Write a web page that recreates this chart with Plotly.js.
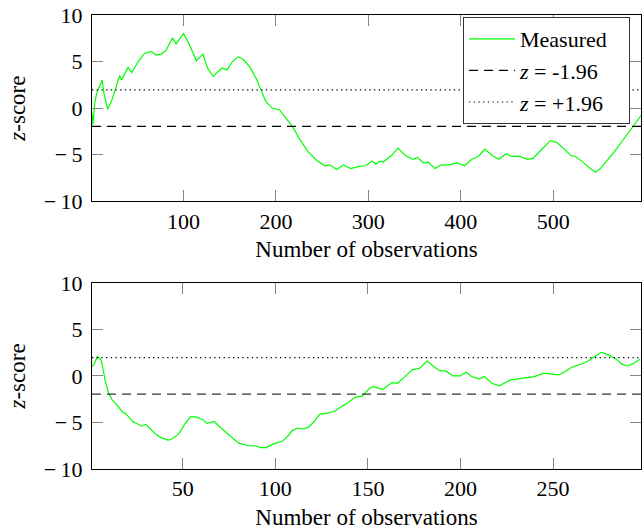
<!DOCTYPE html>
<html>
<head>
<meta charset="utf-8">
<script src="https://cdn.plot.ly/plotly-3.0.1.min.js"></script>
<style>html,body{margin:0;padding:0;background:#fff;}#chart{width:643px;height:532px;}</style>
</head>
<body>
<div id="chart"></div>
<script>
// Top panel: measured z-score
var topX = [1, 2, 4, 6, 9, 12, 14, 18, 22, 27, 31, 33, 40, 44, 51, 58, 65, 70, 76, 81, 88, 92, 100, 105, 108, 114, 121, 126, 132, 137, 142, 147, 153, 159, 164, 172, 179, 184, 189, 196, 204, 211, 218, 226, 235, 244, 253, 258, 266, 273, 281, 289, 297, 304, 308, 313, 316, 325, 332, 340, 348, 353, 360, 365, 372, 379, 388, 396, 404, 412, 419, 426, 434, 441, 449, 455, 464, 472, 478, 488, 497, 504, 511, 519, 524, 531, 540, 546, 551, 566, 580, 587, 595];
var topY = [-0.6, -1.8, 0.5, 1.6, 2.3, 3.0, 1.5, -0.1, 0.7, 2.3, 3.5, 3.0, 4.4, 3.8, 5.0, 5.9, 6.1, 5.7, 5.8, 6.2, 7.5, 6.9, 8.0, 7.1, 6.4, 5.1, 5.8, 4.3, 3.4, 3.9, 4.3, 4.1, 5.0, 5.5, 5.3, 4.4, 3.1, 1.9, 0.7, 0.0, -0.2, -1.1, -2.0, -3.4, -4.7, -5.6, -6.2, -6.1, -6.6, -6.1, -6.5, -6.3, -6.2, -5.7, -6.0, -5.7, -5.8, -5.1, -4.3, -5.1, -5.5, -5.3, -5.9, -5.8, -6.5, -6.1, -6.1, -5.9, -6.2, -5.5, -5.2, -4.4, -5.1, -5.5, -4.9, -5.2, -5.2, -5.5, -5.4, -4.4, -3.5, -3.7, -4.3, -5.1, -5.2, -5.7, -6.5, -6.9, -6.5, -4.7, -2.9, -1.9, -0.8];

// Bottom panel: measured z-score
var botX = [1, 2, 4, 6, 8, 10, 12, 14, 18, 19, 23, 28, 30, 35, 38, 42, 44, 48, 51, 54, 57, 61, 63, 67, 69, 74, 80, 85, 89, 92, 95, 99, 104, 107, 109, 112, 115, 118, 121, 124, 128, 132, 134, 139, 143, 147, 151, 153, 158, 163, 166, 170, 174, 178, 182, 186, 189, 192, 196, 200, 203, 206, 210, 213, 217, 221, 223, 227, 231, 236, 240, 245, 249, 253, 256, 260, 265, 269, 273, 276, 280, 284, 287, 290, 293, 297];
var botY = [1.0, 1.2, 2.1, 1.7, -0.4, -1.9, -2.6, -3.0, -4.0, -4.0, -4.9, -5.4, -5.2, -6.2, -6.6, -6.9, -6.8, -6.2, -5.2, -4.4, -4.4, -4.7, -5.1, -4.9, -5.3, -6.2, -7.2, -7.5, -7.5, -7.7, -7.7, -7.3, -7.0, -6.4, -5.9, -5.6, -5.7, -5.5, -4.9, -4.1, -4.0, -3.8, -3.5, -2.9, -2.3, -2.15, -1.3, -1.15, -1.43, -0.72, -0.79, -0.07, 0.65, 0.82, 1.61, 0.93, 0.54, 0.54, 0.0, 0.0, 0.39, -0.07, -0.32, -0.07, -0.79, -1.07, -0.86, -0.43, -0.32, -0.14, -0.07, 0.29, 0.21, 0.11, 0.39, 0.93, 1.25, 1.61, 2.15, 2.54, 2.26, 1.83, 1.29, 1.07, 1.29, 1.8];

// Thresholds
var lowZ = -1.96;
var highZ = 1.96;
var topRange = [1, 595];
var botRange = [1, 297.5];
var yTicks = [-10, -5, 0, 5, 10];
var yTickText = ['\u2212\u200910', '\u2212\u20095', '0', '5', '10'];
var topXTicks = [100, 200, 300, 400, 500];
var botXTicks = [50, 100, 150, 200, 250];

var FONT = 'Liberation Serif, Times New Roman, serif';
var green = '#00ff00';

var traces = [
  {x: topX, y: topY, type: 'scatter', mode: 'lines', name: 'Measured\u00a0\u00a0\u00a0',
   line: {color: green, width: 1.2}, xaxis: 'x', yaxis: 'y'},
  {x: topRange, y: [lowZ, lowZ], type: 'scatter', mode: 'lines', name: '<i>z</i> = -1.96',
   line: {color: '#000', width: 1.2, dash: '9px,6px'}, xaxis: 'x', yaxis: 'y'},
  {x: topRange, y: [highZ, highZ], type: 'scatter', mode: 'lines', name: '<i>z</i> = +1.96',
   line: {color: '#000', width: 1.2, dash: '1.3px,3.4px'}, xaxis: 'x', yaxis: 'y'},
  {x: botX, y: botY, type: 'scatter', mode: 'lines', showlegend: false,
   line: {color: green, width: 1.2}, xaxis: 'x2', yaxis: 'y2'},
  {x: botRange, y: [lowZ, lowZ], type: 'scatter', mode: 'lines', showlegend: false,
   line: {color: '#333', width: 1.2, dash: '9px,6px'}, xaxis: 'x2', yaxis: 'y2'},
  {x: botRange, y: [highZ, highZ], type: 'scatter', mode: 'lines', showlegend: false,
   line: {color: '#000', width: 1.2, dash: '1.3px,3.4px'}, xaxis: 'x2', yaxis: 'y2'}
];

function xax(range, ticks, anchor, domain) {
  return {
    range: range, domain: domain, anchor: anchor,
    tickvals: ticks, ticks: 'inside', ticklen: 11, tickcolor: '#888', tickwidth: 1,
    showline: true, linecolor: '#000', linewidth: 1, mirror: 'ticks',
    showgrid: false, zeroline: false,
    tickfont: {family: FONT, size: 22, color: '#000'},
    title: {text: 'Number of observations', font: {family: FONT, size: 23, color: '#000'}, standoff: 8}
  };
}
function yax(anchor, domain) {
  return {
    range: [-10, 10], domain: domain, anchor: anchor,
    tickvals: yTicks, ticktext: yTickText, ticks: 'inside', ticklen: 11, tickcolor: '#888', tickwidth: 1,
    showline: true, linecolor: '#000', linewidth: 1, mirror: 'ticks',
    showgrid: false, zeroline: false, ticklabelstandoff: 4,
    tickfont: {family: FONT, size: 22, color: '#000'},
    title: {text: '<i>z</i>-score', font: {family: FONT, size: 23, color: '#000'}, standoff: 11}
  };
}

var layout = {
  width: 643, height: 532,
  margin: {l: 92, r: 2, t: 15, b: 63},
  paper_bgcolor: '#fff', plot_bgcolor: '#fff',
  font: {family: FONT, size: 22, color: '#000'},
  xaxis: xax(topRange, topXTicks, 'y', [0, 1]),
  yaxis: yax('x', [0.59, 1]),
  xaxis2: xax(botRange, botXTicks, 'y2', [0, 1]),
  yaxis2: yax('x2', [0, 0.41]),
  showlegend: true,
  legend: {
    x: 0.98, y: 0.9956, xanchor: 'right', yanchor: 'top',
    bgcolor: '#fff', bordercolor: '#333', borderwidth: 1,
    font: {family: FONT, size: 22, color: '#000'},
    itemwidth: 46, tracegroupgap: 0
  }
};

Plotly.newPlot('chart', traces, layout, {displayModeBar: false, staticPlot: true});
</script>
</body>
</html>
